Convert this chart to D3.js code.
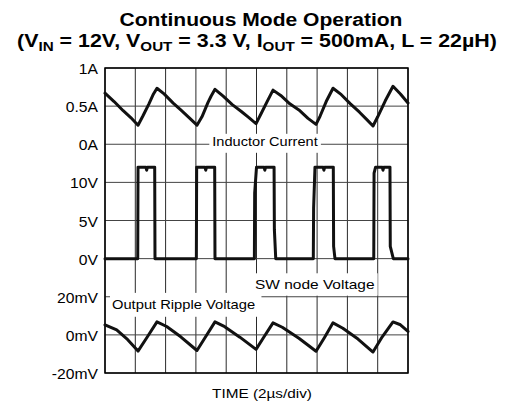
<!DOCTYPE html>
<html>
<head>
<meta charset="utf-8">
<script src="https://cdn.jsdelivr.net/npm/d3@7"></script>
<style>
  html, body { margin: 0; padding: 0; background: #fff; }
  svg { display: block; font-family: "Liberation Sans", Arial, Helvetica, sans-serif; }
</style>
</head>
<body>
<svg id="chart" width="516" height="406"></svg>
<script>
// ---------------- data ----------------
const timeTicks = [0, 2, 4, 6, 8, 10, 12, 14, 16, 18, 20]; // µs, 2 µs/div

const currentTicks = [1, 0.5, 0];
const currentTickLabels = ["1A", "0.5A", "0A"];
const voltTicks = [10, 5, 0];
const voltTickLabels = ["10V", "5V", "0V"];
const rippleTicks = [20, 0, -20];
const rippleTickLabels = ["20mV", "0mV", "-20mV"];

// Inductor current (A) vs time (µs)
const currentTime = [0, 0.6, 1.2, 1.7, 2.18, 2.5, 2.9, 3.2, 3.43, 3.9, 4.5, 5.0, 5.6, 6.07, 6.4, 6.8, 7.0, 7.26,
  7.8, 8.4, 9.0, 9.5, 9.97, 10.3, 10.7, 11.09, 11.6, 12.2, 12.8, 13.4, 13.93, 14.2, 14.6, 15.05,
  15.6, 16.2, 16.8, 17.3, 17.69, 18.0, 18.5, 19.01, 19.5, 20.0];
const currentAmps = [0.67, 0.56, 0.44, 0.35, 0.25, 0.37, 0.53, 0.66, 0.735, 0.66, 0.54, 0.45, 0.34, 0.25, 0.36, 0.55, 0.63, 0.72,
  0.63, 0.52, 0.43, 0.35, 0.27, 0.40, 0.56, 0.71, 0.64, 0.53, 0.45, 0.34, 0.26, 0.37, 0.56, 0.735,
  0.65, 0.53, 0.42, 0.32, 0.24, 0.36, 0.57, 0.76, 0.66, 0.54];

// SW node voltage (V) vs time (µs)
const swTime = [0, 2.16, 2.18, 2.7, 2.75, 2.8, 3.28, 3.30, 6.03, 6.05, 6.6, 6.65, 6.7, 7.24, 7.26,
  9.86, 9.88, 10.0, 10.5, 10.55, 10.6, 11.16, 11.18, 11.27,
  13.75, 13.77, 13.86, 14.4, 14.45, 14.5, 15.07, 15.09, 15.18,
  17.74, 17.76, 17.86, 18.3, 18.35, 18.4, 18.81, 18.83, 19.03, 20.0];
const swVolts = [0, 0, 12, 12, 11.6, 12, 12, 0, 0, 12, 12, 11.6, 12, 12, 0,
  0, 8.6, 12, 12, 11.6, 12, 12, 3.8, 0,
  0, 6.6, 12, 12, 11.6, 12, 12, 1.6, 0,
  0, 11.2, 12, 12, 11.6, 12, 12, 1.6, 0, 0];

// Output ripple voltage (mV) vs time (µs)
const rippleTime = [0, 0.77, 1.5, 2.18, 2.8, 3.43, 4.07, 5.0, 6.07, 6.6, 7.26, 7.9, 8.9, 9.97, 10.5, 11.09,
  11.7, 12.8, 13.93, 14.5, 15.05, 15.7, 16.7, 17.69, 18.3, 19.01, 19.5, 20.0];
const rippleMv = [5.3, 2.6, -2.5, -8.5, -1.0, 6.8, 4.4, -1.0, -8.2, -1.5, 6.8, 4.3, -1.2, -7.6, -1.0, 6.3,
  4.0, -1.8, -8.6, -1.2, 6.3, 3.5, -2.2, -9.0, -1.0, 6.8, 5.3, 1.8];

// ---------------- layout ----------------
const svg = d3.select("#chart");
const L = 105, R = 408, T = 68, B = 373;
const rowH = (B - T) / 8;

const x = d3.scaleLinear().domain([0, 20]).range([L, R]);
const yCur = d3.scaleLinear().domain([0, 1]).range([T + 2 * rowH, T]);
const yVolt = d3.scaleLinear().domain([0, 10]).range([T + 5 * rowH, T + 3 * rowH]);
const yRip = d3.scaleLinear().domain([-20, 20]).range([B, T + 6 * rowH]);

function stretchedText(g, tx, ty, str, size, anchor, weight, sx) {
  return g.append("text")
    .attr("transform", `translate(${tx},${ty}) scale(${sx},1)`)
    .attr("text-anchor", anchor)
    .attr("font-size", size)
    .attr("font-weight", weight || "normal")
    .attr("fill", "#000")
    .text(str);
}

// ---------------- grid ----------------
const grid = svg.append("g");
grid.selectAll("line.v").data(timeTicks).enter().append("line")
  .attr("x1", d => x(d)).attr("x2", d => x(d))
  .attr("y1", T).attr("y2", B)
  .attr("stroke", "#2a2a2a").attr("stroke-width", 1);

const hLines = [].concat(
  currentTicks.map(v => yCur(v)),
  voltTicks.map(v => yVolt(v)),
  rippleTicks.map(v => yRip(v))
);
grid.selectAll("line.h").data(hLines).enter().append("line")
  .attr("x1", L).attr("x2", R)
  .attr("y1", d => d).attr("y2", d => d)
  .attr("stroke", "#444").attr("stroke-width", 1);

svg.append("rect").attr("x", L).attr("y", T).attr("width", R - L).attr("height", B - T)
  .attr("fill", "none").attr("stroke", "#000").attr("stroke-width", 1.5);

// ---------------- tick labels ----------------
const ticksG = svg.append("g");
function tickLabels(vals, labels, scale) {
  vals.forEach((v, i) => {
    stretchedText(ticksG, 98, scale(v) + 6, labels[i], 14, "end", "normal", 1.12);
  });
}
tickLabels(currentTicks, currentTickLabels, yCur);
tickLabels(voltTicks, voltTickLabels, yVolt);
tickLabels(rippleTicks, rippleTickLabels, yRip);

// ---------------- in-plot labels with white boxes ----------------
const lab = svg.append("g");
function boxedLabel(cx, baseline, str, anchor, sx, padL, padR, padT, padB) {
  const t = stretchedText(lab, cx, baseline, str, 12.8, anchor, "normal", sx);
  const bb = t.node().getBoundingClientRect();
  lab.insert("rect", "text")
    .attr("x", bb.left - padL).attr("y", bb.top - padT)
    .attr("width", bb.width + padL + padR).attr("height", bb.height + padT + padB)
    .attr("fill", "#fff");
}
boxedLabel(265, 146, "Inductor Current", "middle", 1.14, 3, 3, 1, 4);
boxedLabel(255, 289, "SW node Voltage", "start", 1.21, 2, 3, 4, 4);
boxedLabel(112, 309, "Output Ripple Voltage", "start", 1.15, 2, 6, 5, 5);

// ---------------- traces ----------------
function series(ts, vs) { return ts.map((t, i) => ({ t: t, v: vs[i] })); }
const traces = svg.append("g")
  .attr("fill", "none").attr("stroke", "#111").attr("stroke-width", 3)
  .attr("stroke-linejoin", "round").attr("stroke-linecap", "round");

traces.append("path")
  .attr("d", d3.line().x(d => x(d.t)).y(d => yCur(d.v))(series(currentTime, currentAmps)));
traces.append("path")
  .attr("d", d3.line().x(d => x(d.t)).y(d => yVolt(d.v))(series(swTime, swVolts)));
traces.append("path")
  .attr("d", d3.line().x(d => x(d.t)).y(d => yRip(d.v))(series(rippleTime, rippleMv)));

// ---------------- titles ----------------
stretchedText(svg, 261, 25.5, "Continuous Mode Operation", 18.3, "middle", "bold", 1.15);

const t2 = svg.append("text")
  .attr("transform", `translate(257,46.5) scale(1.17,1)`)
  .attr("text-anchor", "middle").attr("font-size", 18.3).attr("font-weight", "bold");
const parts = [
  ["(V", false], ["IN", true], [" = 12V, V", false], ["OUT", true],
  [" = 3.3 V, I", false], ["OUT", true], [" = 500mA, L = 22\u00B5H)", false]
];
parts.forEach((p, i) => {
  const ts = t2.append("tspan").text(p[0]);
  if (p[1]) ts.attr("font-size", 13).attr("dy", 4);
  else if (i > 0 && parts[i - 1][1]) ts.attr("dy", -4);
});

stretchedText(svg, 262, 398, "TIME (2\u00B5s/div)", 13, "middle", "normal", 1.18);
</script>
</body>
</html>
